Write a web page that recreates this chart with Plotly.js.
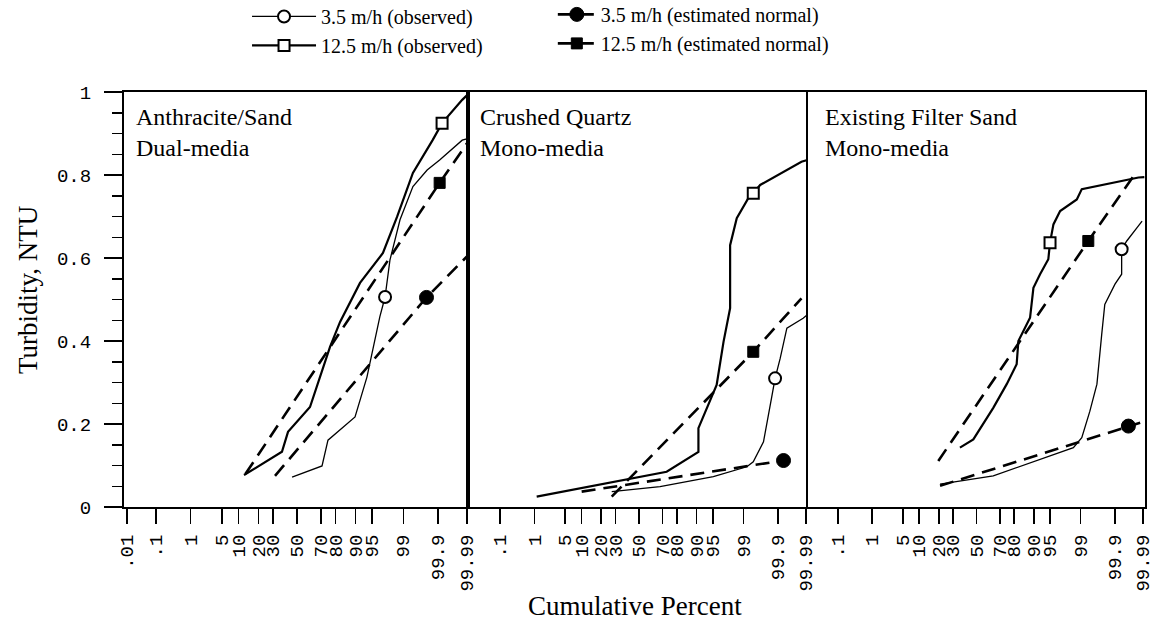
<!DOCTYPE html>
<html>
<head>
<meta charset="utf-8">
<script src="https://cdn.plot.ly/plotly-3.0.1.min.js"></script>
<style>html,body{margin:0;padding:0;background:#fff;}#chart{width:1160px;height:631px;}</style>
</head>
<body>
<div id="chart"></div>
<script>
// ---------- tick labels (probability axis) ----------
const tickPct = [0.01, 0.1, 1, 5, 10, 20, 30, 50, 70, 80, 90, 95, 99, 99.9, 99.99];
const tickLbl = ['.01', '.1', '1', '5', '10', '20', '30', '50', '70', '80', '90', '95', '99', '99.9', '99.99'];

const panelNames = ['Anthracite/Sand<br>Dual-media', 'Crushed Quartz<br>Mono-media', 'Existing Filter Sand<br>Mono-media'];
const seriesNames = ['3.5 m/h (observed)', '12.5 m/h (observed)', '3.5 m/h (estimated normal)', '12.5 m/h (estimated normal)'];

// ---------- Panel 1: Anthracite/Sand dual-media ----------
const p1Obs35Pct  = [45.7, 70.8, 75.1, 89.8, 93.7, 96.5, 97.3, 97.9, 98.79, 99.44, 99.78, 99.91, 99.985, 99.992];
const p1Obs35Ntu  = [0.072, 0.099, 0.161, 0.217, 0.313, 0.458, 0.506, 0.595, 0.692, 0.772, 0.812, 0.836, 0.884, 0.889];
const p1Obs125Pct = [12.3, 37.1, 42.2, 61.2, 76.5, 82.7, 91.6, 97.0, 98.57, 99.44, 99.85, 99.925, 99.985, 99.992];
const p1Obs125Ntu = [0.077, 0.133, 0.181, 0.241, 0.386, 0.446, 0.540, 0.612, 0.699, 0.805, 0.884, 0.925, 0.981, 0.998];
const p1Est35Pct  = [31.5, 99.77, 99.992];
const p1Est35Ntu  = [0.075, 0.505, 0.61];
const p1Est125Pct = [13.0, 99.91, 99.992];
const p1Est125Ntu = [0.08, 0.781, 0.885];
const p1MarkPct   = [97.3, 99.925, 99.77, 99.91];   // obs3.5, obs12.5, est3.5, est12.5
const p1MarkNtu   = [0.506, 0.925, 0.505, 0.781];

// ---------- Panel 2: Crushed quartz mono-media ----------
const p2Obs35Pct  = [27.2, 68.0, 95.1, 99.18, 99.45, 99.72, 99.84, 99.877, 99.916, 99.95, 99.987, 99.991];
const p2Obs35Ntu  = [0.037, 0.049, 0.073, 0.097, 0.109, 0.157, 0.262, 0.31, 0.358, 0.431, 0.455, 0.463];
const p2Obs125Pct = [1.14, 73.1, 90.7, 90.7, 95.8, 97.0, 97.87, 97.87, 98.52, 99.25, 99.45, 99.65, 99.985, 99.991];
const p2Obs125Ntu = [0.025, 0.085, 0.133, 0.190, 0.294, 0.398, 0.479, 0.631, 0.696, 0.744, 0.756, 0.776, 0.832, 0.836];
const p2Est35Pct  = [10.1, 99.935];
const p2Est35Ntu  = [0.037, 0.112];
const p2Est125Pct = [27.2, 99.45, 99.985];
const p2Est125Ntu = [0.025, 0.374, 0.503];
const p2MarkPct   = [99.877, 99.45, 99.935, 99.45];
const p2MarkNtu   = [0.31, 0.756, 0.112, 0.374];

// ---------- Panel 3: Existing filter sand mono-media ----------
const p3Obs35Pct  = [20.8, 64.6, 98.47, 99.06, 99.43, 99.64, 99.74, 99.79, 99.90, 99.94, 99.94, 99.96, 99.983, 99.989];
const p3Obs35Ntu  = [0.055, 0.075, 0.143, 0.167, 0.231, 0.296, 0.416, 0.488, 0.537, 0.561, 0.621, 0.641, 0.673, 0.689];
const p3Obs125Pct = [35.6, 47.2, 64.6, 75.0, 81.5, 82.5, 88.4, 89.8, 92.2, 94.55, 94.96, 95.7, 96.9, 98.74, 99.06, 99.985, 99.991];
const p3Obs125Ntu = [0.143, 0.163, 0.239, 0.296, 0.344, 0.40, 0.456, 0.528, 0.561, 0.597, 0.637, 0.681, 0.713, 0.741, 0.766, 0.794, 0.795];
const p3Est35Pct  = [20.8, 99.965, 99.987];
const p3Est35Ntu  = [0.051, 0.195, 0.203];
const p3Est125Pct = [19.7, 99.37, 99.983];
const p3Est125Ntu = [0.111, 0.641, 0.81];
const p3MarkPct   = [99.94, 94.96, 99.965, 99.37];
const p3MarkNtu   = [0.621, 0.637, 0.195, 0.641];

// ---------- normal probability scale (inverse normal CDF) ----------
function probit(p) {
  const a = [-3.969683028665376e+01, 2.209460984245205e+02, -2.759285104469687e+02, 1.383577518672690e+02, -3.066479806614716e+01, 2.506628277459239e+00];
  const b = [-5.447609879822406e+01, 1.615858368580409e+02, -1.556989798598866e+02, 6.680131188771972e+01, -1.328068155288572e+01];
  const c = [-7.784894002430293e-03, -3.223964580411365e-01, -2.400758277161838e+00, -2.549732539343734e+00, 4.374664141464968e+00, 2.938163982698783e+00];
  const d = [7.784695709041462e-03, 3.224671290700398e-01, 2.445134137142996e+00, 3.754408661907416e+00];
  const pl = 0.02425, ph = 1 - pl;
  let q, r;
  if (p < pl) {
    q = Math.sqrt(-2 * Math.log(p));
    return (((((c[0]*q + c[1])*q + c[2])*q + c[3])*q + c[4])*q + c[5]) / ((((d[0]*q + d[1])*q + d[2])*q + d[3])*q + 1);
  }
  if (p <= ph) {
    q = p - 0.5; r = q * q;
    return (((((a[0]*r + a[1])*r + a[2])*r + a[3])*r + a[4])*r + a[5])*q / (((((b[0]*r + b[1])*r + b[2])*r + b[3])*r + b[4])*r + 1);
  }
  q = Math.sqrt(-2 * Math.log(1 - p));
  return -(((((c[0]*q + c[1])*q + c[2])*q + c[3])*q + c[4])*q + c[5]) / ((((d[0]*q + d[1])*q + d[2])*q + d[3])*q + 1);
}
const toZ = pct => probit(pct / 100);

// ---------- styles ----------
const DASH = '14px,8px';
const lineStyles = [
  {color: '#000', width: 1.3},
  {color: '#000', width: 2.2},
  {color: '#000', width: 2.6, dash: DASH},
  {color: '#000', width: 2.6, dash: DASH}
];
const markerStyles = [
  {symbol: 'circle', size: 12, color: '#fff', line: {color: '#000', width: 2}},
  {symbol: 'square', size: 11, color: '#fff', line: {color: '#000', width: 2}},
  {symbol: 'circle', size: 14, color: '#000', line: {color: '#000', width: 1}},
  {symbol: 'square', size: 11, color: '#000', line: {color: '#000', width: 1}}
];

const panels = [
  {lines: [[p1Obs35Pct, p1Obs35Ntu], [p1Obs125Pct, p1Obs125Ntu], [p1Est35Pct, p1Est35Ntu], [p1Est125Pct, p1Est125Ntu]], mPct: p1MarkPct, mNtu: p1MarkNtu},
  {lines: [[p2Obs35Pct, p2Obs35Ntu], [p2Obs125Pct, p2Obs125Ntu], [p2Est35Pct, p2Est35Ntu], [p2Est125Pct, p2Est125Ntu]], mPct: p2MarkPct, mNtu: p2MarkNtu},
  {lines: [[p3Obs35Pct, p3Obs35Ntu], [p3Obs125Pct, p3Obs125Ntu], [p3Est35Pct, p3Est35Ntu], [p3Est125Pct, p3Est125Ntu]], mPct: p3MarkPct, mNtu: p3MarkNtu}
];
const axSuffix = ['', '2', '3'];

const lineTraces = [], markTraces = [];
panels.forEach((pn, i) => {
  pn.lines.forEach((ln, s) => {
    lineTraces.push({
      type: 'scatter', mode: 'lines',
      x: ln[0].map(toZ), y: ln[1],
      xaxis: 'x' + axSuffix[i], yaxis: 'y' + axSuffix[i],
      line: lineStyles[s], showlegend: false, hoverinfo: 'skip'
    });
    markTraces.push({
      type: 'scatter', mode: 'lines+markers',
      x: [toZ(pn.mPct[s])], y: [pn.mNtu[s]],
      xaxis: 'x' + axSuffix[i], yaxis: 'y' + axSuffix[i],
      line: lineStyles[s], marker: markerStyles[s],
      name: seriesNames[s], showlegend: i === 0,
      legend: s < 2 ? 'legend' : 'legend2',
      hoverinfo: 'skip'
    });
  });
});

const serif = 'Liberation Serif, Times New Roman, serif';
const mono = 'Liberation Mono, Courier New, monospace';

function xAxis(domain, range, anchor, skipFirst) {
  return {
    domain: domain, range: range, anchor: anchor,
    tickmode: 'array',
    tickvals: (skipFirst ? tickPct.slice(1) : tickPct).map(toZ),
    ticktext: skipFirst ? tickLbl.slice(1) : tickLbl,
    ticks: 'outside', ticklen: 15, tickwidth: 1.5, tickcolor: '#000',
    tickangle: -90, tickfont: {family: mono, size: 19, color: '#000'}, ticklabelstandoff: 3,
    showline: true, linewidth: 2, linecolor: '#000', mirror: true,
    showgrid: false, zeroline: false, fixedrange: true
  };
}

const layout = {
  width: 1160, height: 631, autosize: false,
  paper_bgcolor: '#fff', plot_bgcolor: '#fff',
  margin: {l: 124, r: 15, t: 92, b: 124, autoexpand: false},
  font: {family: serif, color: '#000'},
  xaxis: xAxis([0, 0.3389], [-3.786, 3.786], 'y', false),
  xaxis2: xAxis([0.3389, 0.6699], [-3.76, 3.76], 'y2', true),
  xaxis3: xAxis([0.6699, 1], [-3.76, 3.76], 'y3', true),
  yaxis: {
    range: [0, 1], anchor: 'x', dtick: 0.2, tick0: 0,
    ticks: 'outside', ticklen: 18, tickwidth: 1.5, tickcolor: '#000',
    minor: {dtick: 0.05, ticks: 'outside', ticklen: 10, tickwidth: 1.5, tickcolor: '#000'},
    tickfont: {family: mono, size: 19, color: '#000'}, ticklabelstandoff: 9,
    showline: true, linewidth: 2, linecolor: '#000',
    showgrid: false, zeroline: false, fixedrange: true
  },
  yaxis2: {range: [0, 1], anchor: 'x2', showline: true, linewidth: 4, linecolor: '#000',
           ticks: '', showticklabels: false, showgrid: false, zeroline: false, fixedrange: true},
  yaxis3: {range: [0, 1], anchor: 'x3', showline: true, linewidth: 1.5, linecolor: '#000', mirror: true,
           ticks: '', showticklabels: false, showgrid: false, zeroline: false, fixedrange: true},
  legend: {
    x: 0.1205, xanchor: 'left', y: 1.229, yanchor: 'top', orientation: 'v',
    itemwidth: 64, font: {family: serif, size: 20, color: '#000'},
    bgcolor: 'rgba(0,0,0,0)', borderwidth: 0, tracegroupgap: 0
  },
  legend2: {
    x: 0.420, xanchor: 'left', y: 1.234, yanchor: 'top', orientation: 'v',
    itemwidth: 38, font: {family: serif, size: 20, color: '#000'},
    bgcolor: 'rgba(0,0,0,0)', borderwidth: 0, tracegroupgap: 0
  },
  annotations: [
    {xref: 'x domain', yref: 'y domain', x: 0.03, y: 0.975, xanchor: 'left', yanchor: 'top', align: 'left',
     showarrow: false, text: panelNames[0], font: {family: serif, size: 24, color: '#000'}},
    {xref: 'x2 domain', yref: 'y2 domain', x: 0.024, y: 0.975, xanchor: 'left', yanchor: 'top', align: 'left',
     showarrow: false, text: panelNames[1], font: {family: serif, size: 24, color: '#000'}},
    {xref: 'x3 domain', yref: 'y3 domain', x: 0.045, y: 0.975, xanchor: 'left', yanchor: 'top', align: 'left',
     showarrow: false, text: panelNames[2], font: {family: serif, size: 24, color: '#000'}},
    {xref: 'paper', yref: 'paper', x: 0.5005, y: -0.2386, xanchor: 'center', yanchor: 'middle',
     showarrow: false, text: 'Cumulative Percent', font: {family: serif, size: 27, color: '#000'}},
    {xref: 'paper', yref: 'paper', x: -0.094, y: 0.523, xanchor: 'center', yanchor: 'middle', textangle: -90,
     showarrow: false, text: 'Turbidity, NTU', font: {family: serif, size: 27, color: '#000'}}
  ]
};

Plotly.newPlot('chart', lineTraces.concat(markTraces), layout, {displayModeBar: false, staticPlot: true});
</script>
</body>
</html>
